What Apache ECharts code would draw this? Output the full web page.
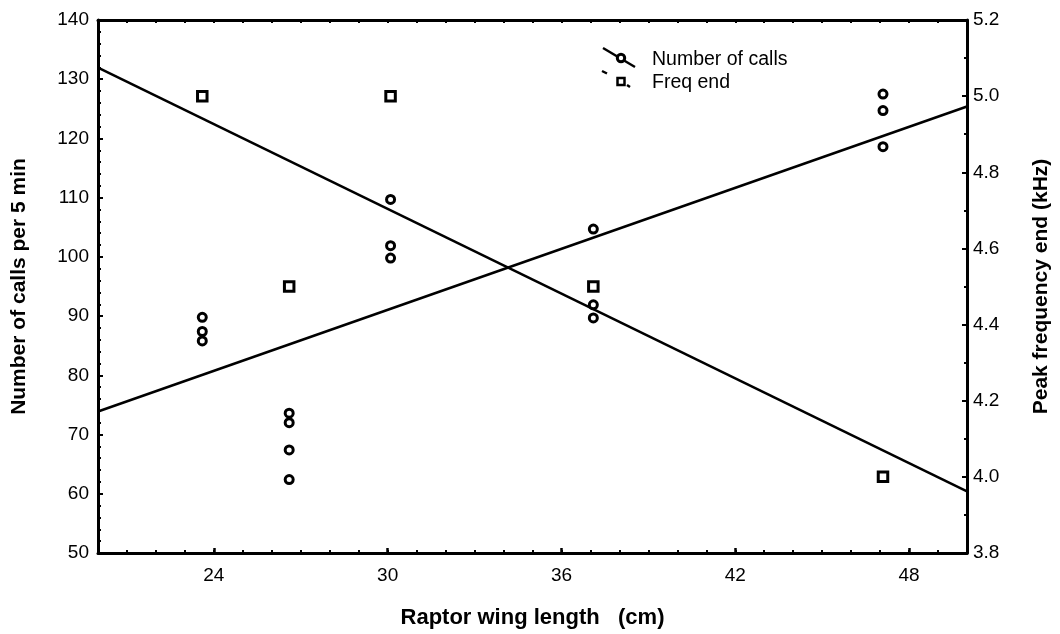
<!DOCTYPE html>
<html>
<head>
<meta charset="utf-8">
<title>Raptor wing length vs calls and peak frequency</title>
<script src="https://cdn.jsdelivr.net/npm/echarts@6/dist/echarts.min.js"></script>
<style>
  html, body { margin: 0; padding: 0; background: #fff; }
  #chart { width: 1060px; height: 634px; }
</style>
</head>
<body>
<div id="chart"></div>
<script>
// Number of calls per 5 min, by raptor wing length (cm)
const callsWing = [23.6, 23.6, 23.6, 26.6, 26.6, 26.6, 26.6, 30.1, 30.1, 30.1, 37.1, 37.1, 37.1, 47.1, 47.1, 47.1];
const callsCount = [89.8, 87.4, 85.8, 73.6, 72.0, 67.4, 62.4, 109.7, 101.9, 99.8, 104.7, 91.9, 89.7, 127.5, 124.7, 118.6];

// Peak frequency at the end of the call (kHz)
const freqWing = [23.6, 26.6, 30.1, 37.1, 47.1];
const freqEnd = [5.0, 4.5, 5.0, 4.5, 4.0];

// Fitted lines, evaluated at the ends of the wing-length axis
const fitWing = [20, 50];
const callsFit = [73.9, 125.4];
const freqFit = [5.075, 3.962];

// Labelled ticks
const wingTicks = [24, 30, 36, 42, 48];

const FONT = 'Liberation Sans, Arial, sans-serif';
const BLACK = '#000';

const zip = (xs, ys) => xs.map((x, i) => [x, ys[i]]);

const chart = echarts.init(document.getElementById('chart'), null, { renderer: 'canvas' });

const axisLine = { show: true, lineStyle: { color: BLACK, width: 3 } };
const labelStyle = { color: BLACK, fontFamily: FONT, fontSize: 19 };
const titleStyle = { color: BLACK, fontFamily: FONT, fontSize: 21, fontWeight: 'bold' };

chart.setOption({
  animation: false,
  backgroundColor: '#fff',
  grid: { left: 98, right: 90, top: 20, bottom: 78, containLabel: false },
  xAxis: [
    {
      type: 'value', position: 'bottom', min: 20, max: 50, interval: 1,
      axisLine: axisLine,
      axisTick: { show: true, inside: true, length: 3, lineStyle: { color: BLACK, width: 2 } },
      axisLabel: { ...labelStyle, margin: 13, customValues: wingTicks },
      splitLine: { show: false },
      name: 'Raptor wing length   (cm)',
      nameLocation: 'middle', nameGap: 54,
      nameTextStyle: { ...titleStyle, fontSize: 22 }
    },
    {
      type: 'value', position: 'bottom', min: 20, max: 50,
      axisLine: { show: false },
      axisTick: { show: true, inside: true, length: 5, customValues: wingTicks, lineStyle: { color: BLACK, width: 2.5 } },
      axisLabel: { show: false },
      splitLine: { show: false }
    },
    {
      type: 'value', position: 'top', min: 20, max: 50, interval: 1,
      axisLine: axisLine,
      axisTick: { show: true, inside: true, length: 3, lineStyle: { color: BLACK, width: 2 } },
      axisLabel: { show: false },
      splitLine: { show: false }
    }
  ],
  yAxis: [
    {
      type: 'value', position: 'left', min: 50, max: 140, interval: 10,
      axisLine: axisLine,
      axisTick: { show: true, inside: true, length: 5, lineStyle: { color: BLACK, width: 2 } },
      minorTick: { show: true, splitNumber: 5, length: 3, lineStyle: { color: BLACK, width: 2 } },
      axisLabel: { ...labelStyle, margin: 9 },
      splitLine: { show: false },
      minorSplitLine: { show: false },
      name: 'Number of calls per 5 min',
      nameLocation: 'middle', nameGap: 68, nameRotate: 90,
      nameTextStyle: titleStyle
    },
    {
      type: 'value', position: 'right', min: 3.8, max: 5.2, interval: 0.2,
      axisLine: axisLine,
      axisTick: { show: true, inside: true, length: 5, lineStyle: { color: BLACK, width: 2 } },
      minorTick: { show: true, splitNumber: 2, length: 3, lineStyle: { color: BLACK, width: 2 } },
      axisLabel: { ...labelStyle, margin: 6, formatter: v => v.toFixed(1) },
      splitLine: { show: false },
      minorSplitLine: { show: false },
      name: 'Peak frequency end (kHz)',
      nameLocation: 'middle', nameGap: 64, nameRotate: 90,
      nameTextStyle: titleStyle
    }
  ],
  series: [
    {
      name: 'Number of calls fit', type: 'line', xAxisIndex: 0, yAxisIndex: 0,
      data: zip(fitWing, callsFit), symbol: 'none', silent: true, z: 2,
      lineStyle: { color: BLACK, width: 2.5 }
    },
    {
      name: 'Freq end fit', type: 'line', xAxisIndex: 0, yAxisIndex: 1,
      data: zip(fitWing, freqFit), symbol: 'none', silent: true, z: 2,
      lineStyle: { color: BLACK, width: 2.5 }
    },
    {
      name: 'Number of calls', type: 'scatter', xAxisIndex: 0, yAxisIndex: 0,
      data: zip(callsWing, callsCount), symbol: 'circle', symbolSize: 8, z: 3,
      itemStyle: { color: '#fff', borderColor: BLACK, borderWidth: 3, opacity: 1 }
    },
    {
      name: 'Freq end', type: 'scatter', xAxisIndex: 0, yAxisIndex: 1,
      data: zip(freqWing, freqEnd), symbol: 'rect', symbolSize: 9.5, z: 3,
      itemStyle: { color: '#fff', borderColor: BLACK, borderWidth: 3, opacity: 1 }
    }
  ],
  graphic: [
    // legend key: line through a circle
    { type: 'line', z: 10, shape: { x1: 603, y1: 48, x2: 635, y2: 67 }, style: { stroke: BLACK, lineWidth: 2.5 } },
    { type: 'circle', z: 11, shape: { cx: 621, cy: 58, r: 3.7 }, style: { fill: '#fff', stroke: BLACK, lineWidth: 3 } },
    { type: 'text', z: 11, x: 652, y: 60, style: { text: 'Number of calls', fill: BLACK, font: '19.5px ' + FONT, verticalAlign: 'middle' } },
    // legend key: broken line with a square
    { type: 'line', z: 10, shape: { x1: 602, y1: 71, x2: 607, y2: 73.5 }, style: { stroke: BLACK, lineWidth: 2.5 } },
    { type: 'rect', z: 11, shape: { x: 617.5, y: 78, width: 7, height: 7 }, style: { fill: '#fff', stroke: BLACK, lineWidth: 2.5 } },
    { type: 'line', z: 10, shape: { x1: 627, y1: 85, x2: 630, y2: 87 }, style: { stroke: BLACK, lineWidth: 2.5 } },
    { type: 'text', z: 11, x: 652, y: 83, style: { text: 'Freq end', fill: BLACK, font: '19.5px ' + FONT, verticalAlign: 'middle' } }
  ]
});
</script>
</body>
</html>
